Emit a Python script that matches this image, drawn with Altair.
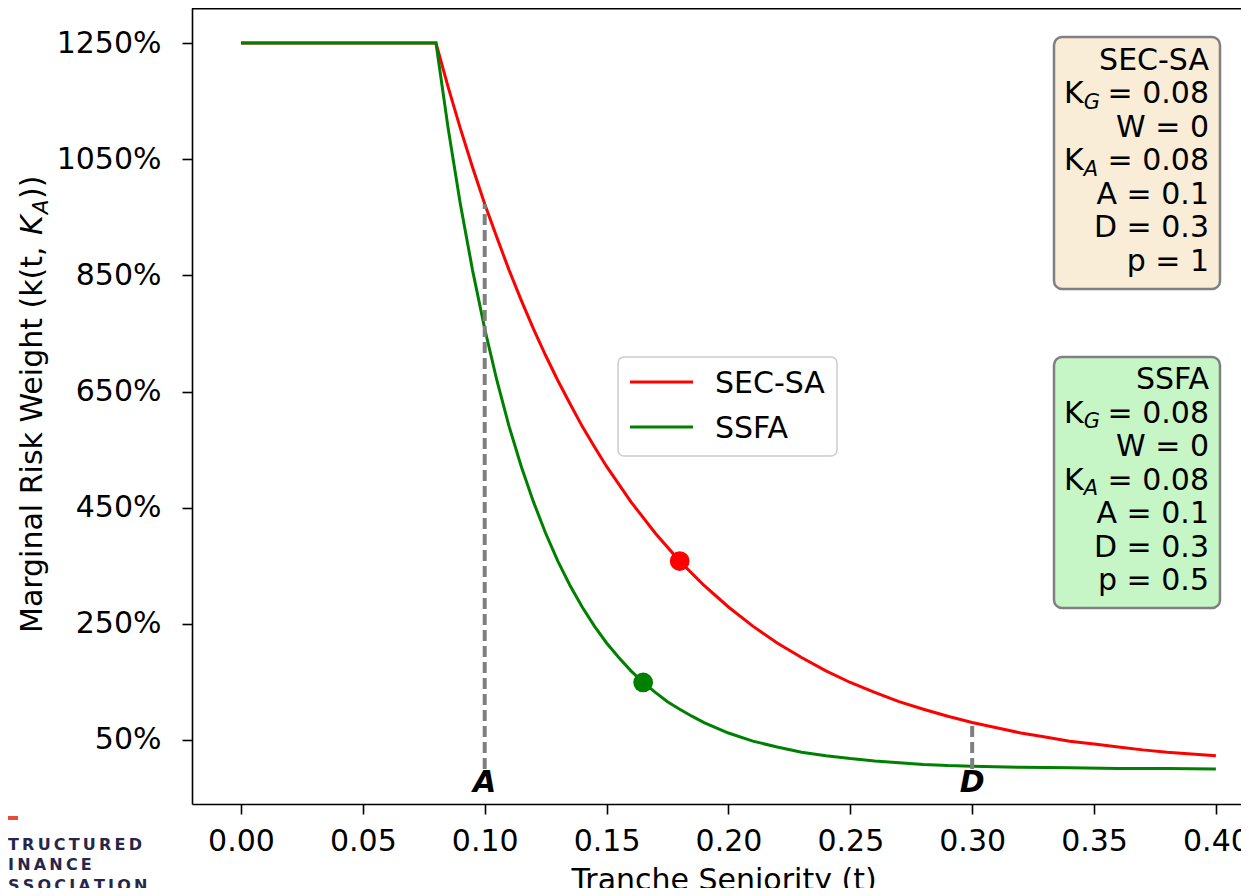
import altair as alt
import pandas as pd

FONT = "DejaVu Sans"

# ---------------- data ----------------
series_names = ["SEC-SA", "SSFA"]
series_colors = ["#ff0000", "#008000"]

t_secsa = [0.0, 0.08, 0.085, 0.09, 0.095, 0.10, 0.105, 0.11, 0.115, 0.12, 0.125, 0.13, 0.135, 0.14, 0.145, 0.15,
           0.16, 0.17, 0.18, 0.19, 0.20, 0.21, 0.22, 0.23, 0.24, 0.25, 0.26, 0.27, 0.28, 0.29, 0.30,
           0.31, 0.32, 0.33, 0.34, 0.35, 0.36, 0.37, 0.38, 0.39, 0.40]
rw_secsa = [1250, 1250, 1174, 1103, 1036, 973, 915, 859, 807, 758, 712, 669, 629, 590, 555, 521,
            460, 406, 358, 316, 279, 246, 217, 192, 169, 149, 132, 116, 103, 91, 80,
            71, 62, 55, 48, 43, 38, 33, 29, 26, 23]

t_ssfa = [0.0, 0.08, 0.085, 0.09, 0.095, 0.10, 0.105, 0.11, 0.115, 0.12, 0.125, 0.13, 0.135, 0.14, 0.145, 0.15,
          0.155, 0.16, 0.165, 0.17, 0.175, 0.18, 0.185, 0.19, 0.195, 0.20,
          0.21, 0.22, 0.23, 0.24, 0.25, 0.26, 0.27, 0.28, 0.29, 0.30,
          0.32, 0.34, 0.36, 0.38, 0.40]
rw_ssfa = [1250, 1250, 1103, 973, 859, 758, 669, 590, 521, 460, 406, 358, 316, 279, 246, 217,
           192, 169, 149, 132, 116, 103, 91, 80, 71, 62,
           48, 38, 29, 23, 18, 14, 11, 8, 6, 5,
           3, 2, 1, 1, 0]

marker_t = [0.18, 0.165]
marker_rw = [358, 149]

guide_t = [0.1, 0.3]
guide_top = [973, 80]
guide_bottom = [0, 0]
guide_label = ["A", "D"]

x_ticks = [0.0, 0.05, 0.10, 0.15, 0.20, 0.25, 0.30, 0.35, 0.40]
y_ticks = [50, 250, 450, 650, 850, 1050, 1250]

box_titles = ["SEC-SA", "SSFA"]
box_KG = [0.08, 0.08]
box_W = [0, 0]
box_KA = [0.08, 0.08]
box_A = [0.1, 0.1]
box_D = [0.3, 0.3]
box_p = [1, 0.5]
box_fill = ["#F9EDD8", "#C6F6C6"]

x_title = "Tranche Seniority (t)"
logo_lines = ["TRUCTURED", "INANCE", "SSOCIATION"]

# ---------------- layout ----------------
W, H = 1049, 796
XDOM = [-0.0201, 0.4103]
YDOM = [-60.2, 1310.3]
xs = alt.Scale(domain=XDOM, nice=False, zero=False)
ys = alt.Scale(domain=YDOM, nice=False, zero=False)

curves = pd.concat([
    pd.DataFrame({"t": t_secsa, "rw": rw_secsa, "series": series_names[0]}),
    pd.DataFrame({"t": t_ssfa, "rw": rw_ssfa, "series": series_names[1]}),
], ignore_index=True)
markers = pd.DataFrame({"t": marker_t, "rw": marker_rw, "c": series_colors})
guides = pd.DataFrame({"t": guide_t, "top": guide_top, "bottom": guide_bottom, "label": guide_label})
one = pd.DataFrame({"k": [0]})

lines = alt.Chart(curves).mark_line(strokeWidth=3, clip=True).encode(
    x=alt.X("t:Q", scale=xs, axis=alt.Axis(values=x_ticks, format=".2f", title=None,
                                            labelFlush=False, labelPadding=12, labelOverlap=False)),
    y=alt.Y("rw:Q", scale=ys, axis=alt.Axis(values=y_ticks, labelExpr="datum.value + '%'", title=None,
                                             labelPadding=21, labelOverlap=False)),
    color=alt.Color("series:N", scale=alt.Scale(domain=series_names, range=series_colors), legend=None),
)

guide_rules = alt.Chart(guides).mark_rule(color="#7f7f7f", strokeWidth=4, strokeDash=[11, 5]).encode(
    x=alt.X("t:Q", scale=xs), y=alt.Y("bottom:Q", scale=ys), y2="top:Q"
)

guide_text = alt.Chart(guides).mark_text(
    font=FONT, fontSize=30, fontWeight="bold", fontStyle="italic", align="center", baseline="alphabetic", color="black"
).encode(x=alt.X("t:Q", scale=xs), y=alt.value(784), text="label:N")

dots = alt.Chart(markers).mark_circle(size=390, opacity=1).encode(
    x=alt.X("t:Q", scale=xs), y=alt.Y("rw:Q", scale=ys), color=alt.Color("c:N", scale=None)
)


def txt(s, x, y, size=30, align="right", style="normal", weight="normal", angle=0, color="black"):
    return alt.Chart(one).mark_text(
        text=s, align=align, baseline="alphabetic", fontSize=size, font=FONT,
        fontStyle=style, fontWeight=weight, angle=angle, color=color
    ).encode(x=alt.value(x), y=alt.value(y))


def box(x1, x2, y1, y2, fill, stroke, sw, r, fo=1.0):
    return alt.Chart(one).mark_rect(
        fill=fill, fillOpacity=fo, stroke=stroke, strokeWidth=sw, cornerRadius=r
    ).encode(x=alt.value(x1), x2=alt.value(x2), y=alt.value(y1), y2=alt.value(y2))


def hline(x1, x2, y, color, sw):
    return alt.Chart(one).mark_rule(color=color, strokeWidth=sw).encode(
        x=alt.value(x1), x2=alt.value(x2), y=alt.value(y))


layers = [lines, guide_rules, dots, guide_text]

# parameter boxes
box_top = [29, 349]
box_bot = [281, 600]
box_base = [61.5, 381.3]
RX = 1017
KX = 872
LS = 33.5
for b in range(2):
    layers.append(box(862, 1028, box_top[b], box_bot[b], box_fill[b], "#808080", 2.5, 8))
    y0 = box_base[b]
    layers.append(txt(box_titles[b], RX, y0))
    layers.append(txt("K", KX, y0 + LS, align="left"))
    layers.append(txt("G", KX + 19.7, y0 + LS + 5.5, size=21, align="left", style="italic"))
    layers.append(txt(f"= {box_KG[b]:g}", RX, y0 + LS))
    layers.append(txt(f"W = {box_W[b]:g}", RX, y0 + 2 * LS))
    layers.append(txt("K", KX, y0 + 3 * LS, align="left"))
    layers.append(txt("A", KX + 19.7, y0 + 3 * LS + 5.5, size=21, align="left", style="italic"))
    layers.append(txt(f"= {box_KA[b]:g}", RX, y0 + 3 * LS))
    layers.append(txt(f"A = {box_A[b]:g}", RX, y0 + 4 * LS))
    layers.append(txt(f"D = {box_D[b]:g}", RX, y0 + 5 * LS))
    layers.append(txt(f"p = {box_p[b]:g}", RX, y0 + 6 * LS))

# legend
layers.append(box(426, 645, 349, 448, "white", "#cccccc", 1.5, 6, fo=0.8))
leg_y = [374, 419]
for i in range(2):
    layers.append(hline(438, 501, leg_y[i], series_colors[i], 3))
    layers.append(txt(series_names[i], 523, leg_y[i] + 11, align="left"))

# axis titles
layers.append(txt("Marginal Risk Weight (k(t, ", -150, 625, align="left", angle=270))
layers.append(txt("K", -150, 227, align="left", angle=270, style="italic"))
layers.append(txt("A", -144.5, 206, size=21, align="left", angle=270, style="italic"))
layers.append(txt("))", -150, 191, align="left", angle=270))
layers.append(txt(x_title, 532, 882, align="center"))

# spines (top)
layers.append(hline(0, W, 0.8, "black", 1.6))

# logo watermark
layers.append(hline(-184, -174, 810, "#e94b35", 4))
logo_base = [841.5, 861.5, 882.5]
for i, s in enumerate(logo_lines):
    layers.append(txt("\u2009".join(s), -184, logo_base[i], size=16, align="left", weight="bold", color="#25264a"))

chart = alt.layer(*layers).properties(
    width=W, height=H,
    autosize=alt.AutoSizeParams(type="none"),
    padding={"left": 184, "top": 0, "right": 0, "bottom": 84},
).configure_view(stroke=None).configure_axis(
    grid=False, domainColor="black", domainWidth=1.6, tickColor="black", tickWidth=1.6, tickSize=10,
    labelFont=FONT, labelFontSize=30, labelColor="black"
)

chart.save("out.html", embed_options={"renderer": "svg", "actions": False})
